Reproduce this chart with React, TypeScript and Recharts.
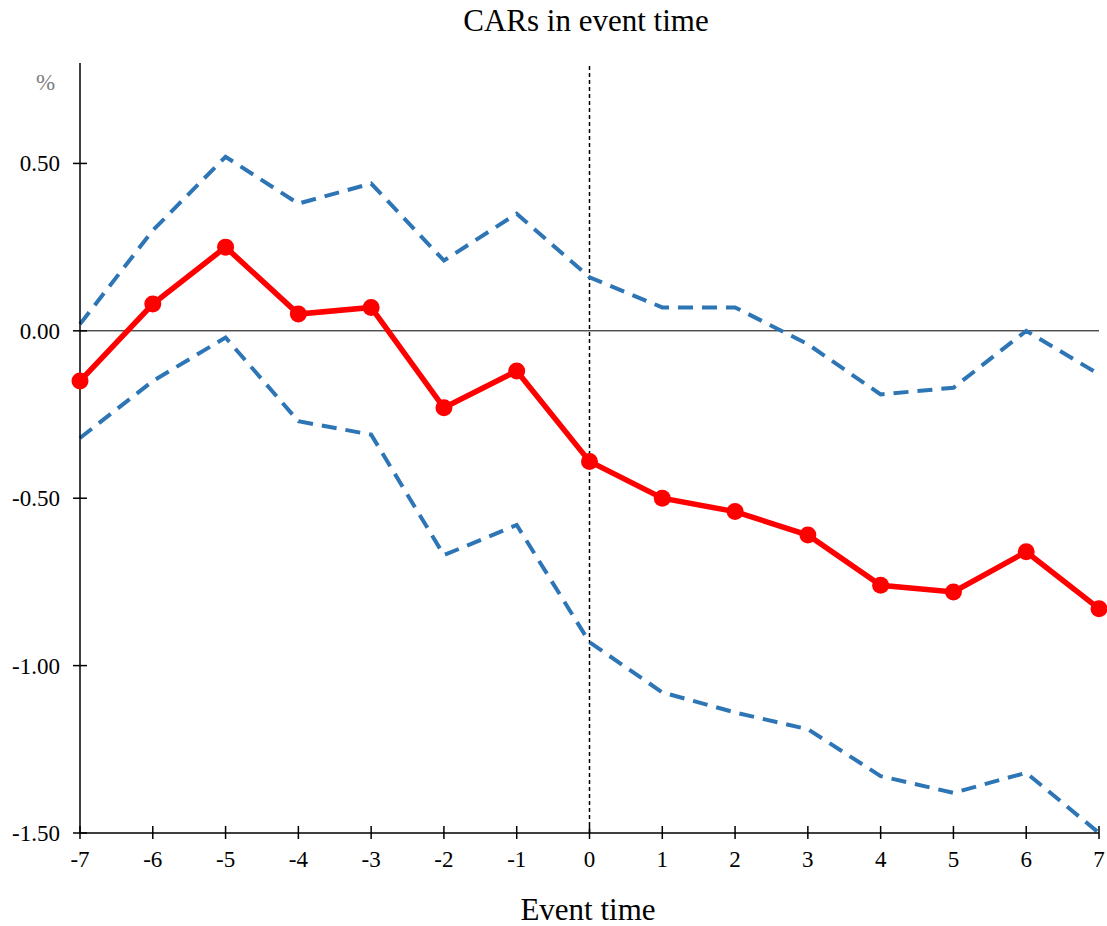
import { LineChart, Line, XAxis, YAxis, ReferenceLine } from "recharts";

const eventTime = [-7, -6, -5, -4, -3, -2, -1, 0, 1, 2, 3, 4, 5, 6, 7];
const car = [-0.15, 0.08, 0.25, 0.05, 0.07, -0.23, -0.12, -0.39, -0.5, -0.54, -0.61, -0.76, -0.78, -0.66, -0.83];
const upper = [0.02, 0.3, 0.52, 0.38, 0.44, 0.21, 0.35, 0.16, 0.07, 0.07, -0.04, -0.19, -0.17, 0.0, -0.13];
const lower = [-0.32, -0.15, -0.02, -0.27, -0.31, -0.67, -0.58, -0.93, -1.08, -1.14, -1.19, -1.33, -1.38, -1.32, -1.5];
const yTicks = [-1.5, -1.0, -0.5, 0.0, 0.5];

const data = eventTime.map((t, i) => ({ t, car: car[i], upper: upper[i], lower: lower[i] }));

const FONT = "'Liberation Serif', 'DejaVu Serif', serif";

const XTick = (props: any) => {
  const { x, y, payload } = props;
  const axisY = y - 2;
  return (
    <g>
      <line x1={x} x2={x} y1={axisY - 5} y2={axisY + 8} stroke="#000" strokeWidth={1.5} />
      <text x={x} y={axisY + 36} textAnchor="middle" fontSize={23} fontFamily={FONT} fill="#000">
        {payload.value}
      </text>
    </g>
  );
};

const YTick = (props: any) => {
  const { y, payload } = props;
  return (
    <g>
      <line x1={73} x2={87} y1={y} y2={y} stroke="#000" strokeWidth={1.5} />
      <text x={60} y={y + 8} textAnchor="end" fontSize={23} fontFamily={FONT} fill="#000">
        {Number(payload.value).toFixed(2)}
      </text>
    </g>
  );
};

export default function App() {
  return (
    <div style={{ position: "absolute", left: 0, top: 0, width: 1107, height: 926, background: "#fff", fontFamily: FONT }}>
      <div style={{ position: "absolute", left: 0, width: 1172, top: 3, textAlign: "center", fontSize: 31, color: "#000" }}>
        CARs in event time
      </div>
      <div style={{ position: "absolute", left: 36, top: 70, fontSize: 23, color: "#7f7f7f" }}>%</div>
      <div style={{ position: "absolute", left: 0, width: 1176, top: 892, textAlign: "center", fontSize: 31, color: "#000" }}>
        Event time
      </div>
      <LineChart width={1107} height={926} data={data} margin={{ top: 63, right: 8, bottom: 0, left: 0 }}>
        <XAxis
          dataKey="t"
          type="number"
          domain={[-7, 7]}
          ticks={eventTime}
          interval={0}
          axisLine={{ stroke: "#000", strokeWidth: 1.5 }}
          tickLine={false}
          tick={<XTick />}
          height={93}
          tickSize={0}
          tickMargin={0}
        />
        <YAxis
          type="number"
          domain={[-1.5, 0.8]}
          ticks={yTicks}
          allowDataOverflow
          axisLine={{ stroke: "#000", strokeWidth: 1.5 }}
          tickLine={false}
          tick={<YTick />}
          width={80}
        />
        <ReferenceLine y={0} stroke="#000" strokeWidth={1} />
        <ReferenceLine x={0} stroke="#000" strokeWidth={1.5} strokeDasharray="4 3" />
        <Line
          dataKey="upper"
          stroke="#2E75B6"
          strokeWidth={4}
          strokeDasharray="15 9"
          dot={false}
          isAnimationActive={false}
        />
        <Line
          dataKey="lower"
          stroke="#2E75B6"
          strokeWidth={4}
          strokeDasharray="15 9"
          dot={false}
          isAnimationActive={false}
        />
        <Line
          dataKey="car"
          stroke="#FF0000"
          strokeWidth={5.5}
          dot={{ r: 8.5, fill: "#FF0000", stroke: "#FF0000", strokeWidth: 0 }}
          isAnimationActive={false}
        />
      </LineChart>
    </div>
  );
}
